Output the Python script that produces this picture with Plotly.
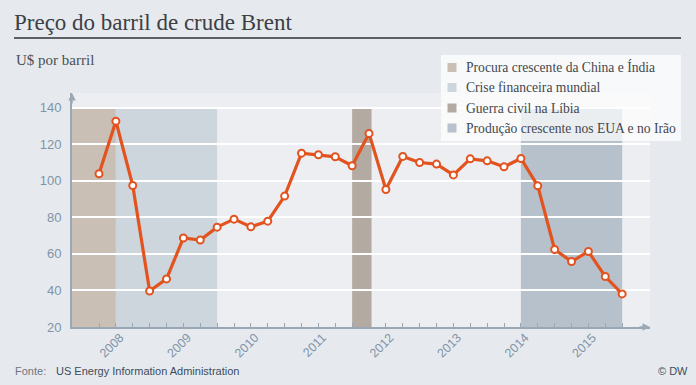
import plotly.graph_objects as go

# ---------------- data ----------------
quarters = ["Mar 2008", "Jun 2008", "Sep 2008", "Dez 2008",
            "Mar 2009", "Jun 2009", "Sep 2009", "Dez 2009",
            "Mar 2010", "Jun 2010", "Sep 2010", "Dez 2010",
            "Mar 2011", "Jun 2011", "Sep 2011", "Dez 2011",
            "Mar 2012", "Jun 2012", "Sep 2012", "Dez 2012",
            "Mar 2013", "Jun 2013", "Sep 2013", "Dez 2013",
            "Mar 2014", "Jun 2014", "Sep 2014", "Dez 2014",
            "Mar 2015", "Jun 2015", "Sep 2015", "Dez 2015"]
prices = [103.8, 132.6, 97.4, 39.7, 46.3, 68.7, 67.6, 74.6,
          79.0, 74.8, 77.9, 91.6, 115.1, 114.2, 113.1, 108.2,
          125.9, 95.2, 113.3, 110.0, 109.1, 103.2, 112.0, 110.9,
          107.6, 112.2, 97.2, 62.4, 55.8, 61.3, 47.6, 38.1]
years = ["2008", "2009", "2010", "2011", "2012", "2013", "2014", "2015"]

band_names = ["Procura crescente da China e Índia",
              "Crise financeira mundial",
              "Guerra civil na Líbia",
              "Produção crescente nos EUA e no Irão"]
band_start = [-1.6, 1.0, 15.0, 25.0]   # quarter index
band_end = [1.0, 7.0, 16.15, 31.0]
band_top = 140
band_colors = ["#c9bfb5", "#cdd5dd", "#b3aaa2", "#b7c1cb"]

y_ticks = [20, 40, 60, 80, 100, 120, 140]

# ---------------- layout helpers ----------------
W, H = 696, 385
ML, MR, MT, MB = 72, 46, 93, 58
PW, PH = W - ML - MR, H - MT - MB
X_RANGE = [-1.6, 32.65]
Y_RANGE = [20, 148]


def px_x(p):
    return (p - ML) / PW


def px_y(p):
    return (H - MB - p) / PH


idx = list(range(len(quarters)))
major = [i for i in idx if (i + 1) % 4 == 0]
label_pos = [4 * i + 1.25 for i in range(len(years))]

AXC = "#9aa8b6"
TICKC = "#8194a8"
ORANGE = "#e2531f"
SERIF = "Liberation Serif, Times New Roman, serif"
SANS = "Liberation Sans, Arial, sans-serif"
NARROW = "Liberation Sans Narrow, Arial Narrow, Liberation Sans, sans-serif"

fig = go.Figure()

# bands
shapes = []
for s, e, c in zip(band_start, band_end, band_colors):
    shapes.append(dict(type="rect", xref="x", yref="y", x0=s, x1=e,
                       y0=Y_RANGE[0], y1=band_top, fillcolor=c,
                       line=dict(width=0), layer="below"))
# title rule
shapes.append(dict(type="line", xref="paper", yref="paper",
                   x0=px_x(14), x1=px_x(681), y0=px_y(38), y1=px_y(38),
                   line=dict(color="#5a6066", width=2)))

# legend box
LEG_L, LEG_R, LEG_T, LEG_B = 441, 681, 55, 141
shapes.append(dict(type="rect", xref="paper", yref="paper",
                   x0=px_x(LEG_L), x1=px_x(LEG_R), y0=px_y(LEG_B), y1=px_y(LEG_T),
                   fillcolor="rgba(255,255,255,0.72)", line=dict(width=0),
                   layer="above"))
annotations = []
row_y = [67.5, 87.5, 108, 128]
for n, c, ry in zip(band_names, band_colors, row_y):
    shapes.append(dict(type="rect", xref="paper", yref="paper",
                       x0=px_x(447.5), x1=px_x(456.5),
                       y0=px_y(ry + 4.5), y1=px_y(ry - 4.5),
                       fillcolor=c, line=dict(width=0), layer="above"))
    annotations.append(dict(text=n, xref="paper", yref="paper",
                            x=px_x(464), y=px_y(ry), xanchor="left",
                            yanchor="middle", showarrow=False,
                            font=dict(family=SERIF, size=13.6, color="#43484e")))

# main line
fig.add_trace(go.Scatter(x=idx, y=prices, mode="lines+markers",
                         text=quarters, showlegend=False,
                         line=dict(color=ORANGE, width=3.2),
                         marker=dict(size=7, color="white",
                                     line=dict(color=ORANGE, width=2))))
# carrier for the year-label axis
fig.add_trace(go.Scatter(x=[None], y=[None], xaxis="x2", showlegend=False,
                         hoverinfo="skip"))

annotations += [
    dict(text="U$ por barril", xref="paper", yref="paper",
         x=px_x(14), y=px_y(60), xanchor="left", yanchor="middle",
         showarrow=False, font=dict(family=SERIF, size=15, color="#4a4f55")),
    dict(text="Fonte:", xref="paper", yref="paper",
         x=px_x(13), y=px_y(371), xanchor="left", yanchor="middle",
         showarrow=False, font=dict(family=NARROW, size=11, color="#6b7682")),
    dict(text="US Energy Information Administration", xref="paper", yref="paper",
         x=px_x(54), y=px_y(371), xanchor="left", yanchor="middle",
         showarrow=False, font=dict(family=NARROW, size=11, color="#3d4c5c")),
    dict(text="© DW", xref="paper", yref="paper",
         x=px_x(690), y=px_y(371), xanchor="right", yanchor="middle",
         showarrow=False, font=dict(family=NARROW, size=11, color="#3d4c5c")),
    # axis arrows
    dict(x=1.0, y=0, xref="paper", yref="paper", ax=-12, ay=0,
         showarrow=True, arrowhead=2, arrowsize=1, arrowwidth=1.5,
         arrowcolor=AXC, text=""),
    dict(x=0, y=1.0, xref="paper", yref="paper", ax=0, ay=12,
         showarrow=True, arrowhead=2, arrowsize=1, arrowwidth=1.5,
         arrowcolor=AXC, text=""),
]

fig.update_layout(
    width=W, height=H,
    margin=dict(l=ML, r=MR, t=MT, b=MB, autoexpand=False),
    paper_bgcolor="#e6eaee",
    plot_bgcolor="#eceef1",
    title=dict(text="Preço do barril de crude Brent", x=14 / W, xanchor="left",
               y=1 - 22 / H, yanchor="middle",
               font=dict(family=SERIF, size=23, color="#3b4046")),
    shapes=shapes,
    annotations=annotations,
    showlegend=False,
    xaxis=dict(range=X_RANGE, showgrid=False, zeroline=False,
               showline=True, linecolor=AXC, linewidth=2,
               tickmode="array", tickvals=major,
               ticktext=["" for _ in major],
               ticks="inside", ticklen=8, tickwidth=1, tickcolor=AXC,
               minor=dict(tickmode="array", tickvals=idx, ticks="inside",
                          ticklen=4, tickwidth=1, tickcolor=AXC,
                          showgrid=False)),
    xaxis2=dict(range=X_RANGE, overlaying="x", anchor="y", side="bottom",
                showgrid=False, zeroline=False, showline=False,
                tickmode="array", tickvals=label_pos, ticktext=years,
                tickangle=-45, ticks="",
                tickfont=dict(family=SANS, size=12.5, color=TICKC)),
    yaxis=dict(range=Y_RANGE, tickmode="array", tickvals=y_ticks,
               showgrid=True, gridcolor="white", gridwidth=2,
               zeroline=False, showline=True, linecolor=AXC, linewidth=2,
               ticks="", ticklabelstandoff=6,
               tickfont=dict(family=SANS, size=13, color=TICKC)),
)

fig.write_html("out.html",
               config={"displayModeBar": False},
               post_script="document.body.style.margin='0';document.body.style.overflow='hidden';")
